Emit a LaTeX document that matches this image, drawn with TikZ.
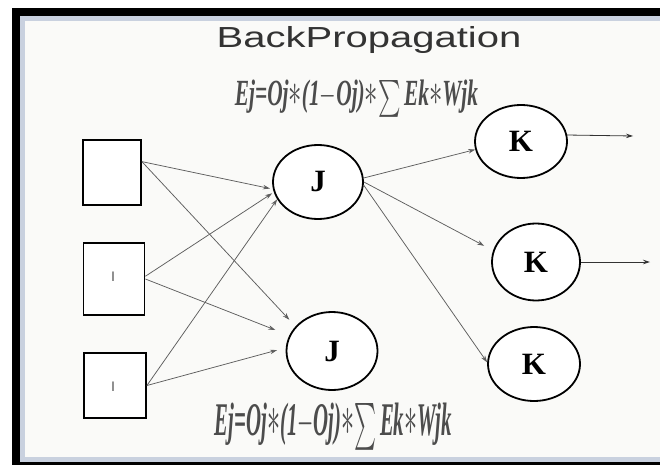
\documentclass[tikz,border=0pt]{standalone}
\usepackage{fontspec}
\setmainfont{Liberation Serif}
\newfontfamily\titlefont[FakeStretch=1.38]{Liberation Sans}
\newfontfamily\tickfont{Liberation Sans}
\usetikzlibrary{arrows.meta,shapes.geometric}
\definecolor{framebg}{HTML}{FAFAF8}
\definecolor{framerim}{HTML}{C9D1DF}
\definecolor{titlegray}{HTML}{333333}
\definecolor{formgray}{HTML}{4C4C4C}
\definecolor{edgegray}{HTML}{5E5E5E}
\newcommand\fast{\scalebox{1.25}{$\ast$}}
\newcommand\ejformula{\bfseries\itshape Ej=Oj\fast(1$-$Oj)\fast\raisebox{-0.06em}{$\sum$}\,Ek\fast Wjk}
\tikzset{
  inbox/.style={draw=black, line width=1.8pt, rectangle, inner sep=0pt, fill=white},
  neuron/.style={draw=black, line width=1.8pt, ellipse, inner sep=0pt, fill=white,
    font=\fontsize{31}{31}\selectfont\bfseries},
  conn/.style={draw=edgegray, line width=0.75pt, -{Stealth[length=7pt,width=4.5pt]}},
  outarrow/.style={draw=black!80, line width=0.8pt, -{Stealth[length=7pt,width=4.5pt]}},
  tickmark/.style={text=black!55, inner sep=0pt, font=\tickfont\fontsize{18}{18}\selectfont},
  formula/.style={text=formgray, inner sep=0pt},
}
\begin{document}
\begin{tikzpicture}[x=1pt,y=-1pt]
\useasboundingbox (0,0) rectangle (660,465);
% frame
\fill[white] (0,0) rectangle (660,465);
\fill[black] (12,8) rectangle (660,16);
\fill[black] (12,8) rectangle (20,465);
\fill[black] (12,462) rectangle (660,465);
\fill[framerim] (20,16) rectangle (660,462);
\fill[framebg] (25,21) rectangle (660,457);
% title
\node[anchor=base, text=titlegray, inner sep=0pt, font=\titlefont\fontsize{29}{29}\selectfont] (title) at (369,48)
  {BackPropagation};
% formulas
\node[formula] (f1) at (356.5,98.5) {\resizebox*{243pt}{37pt}{\ejformula}};
\node[formula] (f2) at (333.5,427) {\resizebox*{237pt}{47pt}{\ejformula}};
% input boxes
\node[inbox, minimum width=58pt, minimum height=65pt] (s1) at (112,172.5) {};
\node[inbox, minimum width=61pt, minimum height=72pt] (s2) at (114,279) {};
\node[inbox, minimum width=62pt, minimum height=65pt] (s3) at (115,385.5) {};
\node[tickmark] (m2) at (113,277) {ı};
\node[tickmark] (m3) at (113,387) {ı};
% hidden
\node[neuron, minimum width=90pt, minimum height=74pt] (j1) at (318,182) {J};
\node[neuron, minimum width=91pt, minimum height=78pt] (j2) at (332,351) {J};
% output
\node[neuron, minimum width=92pt, minimum height=73pt] (k1) at (521,141.5) {K};
\node[neuron, minimum width=88pt, minimum height=77pt] (k2) at (536,262) {K};
\node[neuron, minimum width=92pt, minimum height=74pt] (k3) at (534,364) {K};
% connectors input -> hidden
\draw[conn, shorten >=3pt] (s1.20) -- (j1.189);
\draw[conn, shorten >=9pt] (s1.20) -- (j2.146);
\draw[conn, shorten >=2pt] (s2.5) -- (j1.193);
\draw[conn, shorten >=15pt] (s2.east) -- (j2.160);
\draw[conn, shorten >=9pt] (s3.east) -- (j2.176);
\draw[conn] (s3.east) -- (j1.203);
% hidden -> output
\draw[conn] (j1.5) -- (k1.190);
\draw[conn, shorten >=10pt] (j1.0) -- (k2.165);
\draw[conn] (j1.356) -- (k3.178);
% output arrows
\coordinate (o1) at (633,136);
\coordinate (o2) at (650,262);
\draw[outarrow] (k1.8) -- (o1);
\draw[outarrow] (k2.east) -- (o2);
\end{tikzpicture}
\end{document}
